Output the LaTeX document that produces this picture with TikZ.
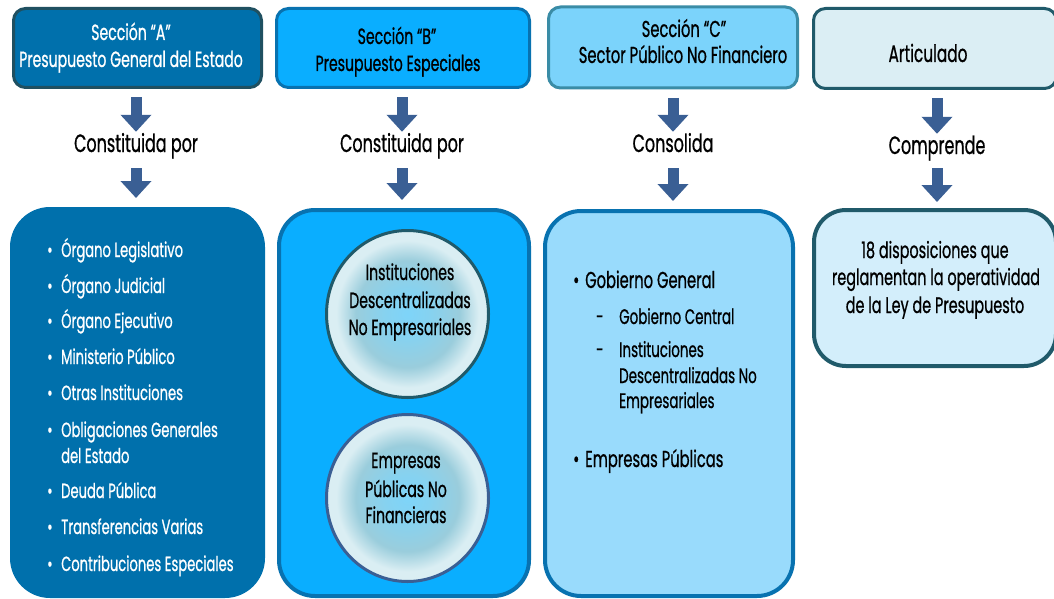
\documentclass[tikz,border=0pt]{standalone}
\usepackage{fontspec}
\setmainfont{Poppins}[FakeStretch=0.64,FakeBold=0.7]
\usetikzlibrary{arrows.meta,shapes.geometric}
\definecolor{cA}{HTML}{0070AC}
\definecolor{bA}{HTML}{1F5061}
\definecolor{cB}{HTML}{0AAEFF}
\definecolor{bB}{HTML}{0872B0}
\definecolor{cC}{HTML}{7BD3FB}
\definecolor{bC}{HTML}{3A8CA6}
\definecolor{cD}{HTML}{DBEEF4}
\definecolor{bD}{HTML}{205A6A}
\definecolor{cCb}{HTML}{99DBFC}
\definecolor{cDb}{HTML}{D3EEFB}
\definecolor{arr}{HTML}{3A5F94}
\definecolor{orbA}{HTML}{7ED4F9}
\definecolor{orbA2}{HTML}{86D2F0}
\definecolor{orbB}{HTML}{9ACDDC}
\definecolor{orbC}{HTML}{DAEEF3}
\pgfdeclareradialshading{orb}{\pgfpoint{0bp}{0bp}}{color(0bp)=(orbA); color(7bp)=(orbA2); color(16bp)=(orbB); color(22bp)=(orbC); color(25bp)=(orbC); color(50bp)=(orbC)}
\begin{document}
\begin{tikzpicture}[x=1pt,y=-1pt,
  topbox/.style={draw, line width=3pt, rounded corners=12pt, inner sep=0pt},
  botbox/.style={line width=4pt, rounded corners=36pt, inner sep=0pt},
  orbnode/.style={ellipse, draw, line width=3pt, shading=orb, inner sep=0pt, minimum width=162pt, minimum height=167pt},
  txt/.style={inner sep=0pt, anchor=base},
  txtw/.style={inner sep=0pt, anchor=base west},
  ft/.style={font=\fontsize{22}{26}\selectfont},
  fl/.style={font=\fontsize{20.5}{24}\selectfont},
  fs/.style={font=\fontsize{21}{25}\selectfont},
  fo/.style={font=\fontsize{22}{26}\selectfont},
  fg/.style={font=\fontsize{23}{27}\selectfont},
  lbl/.style={inner sep=0pt, anchor=base, text height=16pt, text depth=5pt, font=\fontsize{25}{29}\selectfont},
  blockarrow/.style={draw=arr, line width=11pt, -{Triangle[width=30pt,length=17pt]}}
]
\useasboundingbox (0,0) rectangle (1054,599);
\clip (0,0) rectangle (1054,599);

% top boxes
\node[topbox, draw=bA, fill=cA, minimum width=248pt, minimum height=79pt] (topA) at (137.5,48) {};
\node[topbox, draw=bB, fill=cB, minimum width=253pt, minimum height=79pt] (topB) at (403,48) {};
\node[topbox, draw=bC, fill=cC, minimum width=249pt, minimum height=81pt] (topC) at (673,47.5) {};
\node[topbox, draw=bD, fill=cD, minimum width=243pt, minimum height=80pt] (topD) at (935,48.5) {};

\node[txt, ft, text=white] (tA1) at (131,40) {Sección “A”};
\node[txt, ft, text=white] (tA2) at (131,67) {Presupuesto General del Estado};
\node[txt, ft] (tB1) at (397,44) {Sección “B”};
\node[txt, ft] (tB2) at (398,71) {Presupuesto Especiales};
\node[txt, fg] (tC1) at (684,37) {Sección “C”};
\node[txt, fg] (tC2) at (683,63) {Sector Público No Financiero};
\node[txt, font=\fontsize{24}{28}\selectfont] (tD1) at (928,62) {Articulado};

% middle labels
\node[lbl] (lA) at (136,152) {Constituida por};
\node[lbl] (lB) at (402,152) {Constituida por};
\node[lbl] (lC) at (673,152) {Consolida};
\node[lbl] (lD) at (937,154) {Comprende};

% bottom boxes
\node[botbox, fill=cA, minimum width=255pt, minimum height=391pt, rounded corners=40pt] (botA) at (137.5,402.5) {};
\node[botbox, draw=bB, fill=cB, minimum width=250pt, minimum height=386pt] (botB) at (404,403) {};
\node[botbox, draw=bB, fill=cCb, minimum width=248pt, minimum height=385pt] (botC) at (669,403.5) {};
\node[botbox, draw=bD, fill=cDb, minimum width=242pt, minimum height=156pt, rounded corners=32pt] (botD) at (935,288) {};

% arrows
\draw[blockarrow, shorten <=8.5pt, shorten >=4pt] (topA.south -| lA) -- (lA.north);
\draw[blockarrow, shorten <=11pt, shorten >=7pt] (lA.south) -- (botA.north -| lA);
\draw[blockarrow, shorten <=8.5pt, shorten >=4pt] (topB.south -| lB) -- (lB.north);
\draw[blockarrow, shorten <=11pt, shorten >=8pt] (lB.south) -- (botB.north -| lB);
\draw[blockarrow, shorten <=8.5pt, shorten >=4pt] (topC.south) -- (lC.north);
\draw[blockarrow, shorten <=11pt, shorten >=8pt] (lC.south) -- (botC.north -| lC);
\draw[blockarrow, shorten <=8.5pt, shorten >=4pt] (topD.south -| lD) -- (lD.north);
\draw[blockarrow, shorten <=9pt, shorten >=6pt] (lD.south) -- (botD.north -| lD);

% list A
\foreach \y/\t [count=\i] in {257/Órgano Legislativo, 293/Órgano Judicial, 328/Órgano Ejecutivo, 364/Ministerio Público, 400/Otras Instituciones, 437/Obligaciones Generales, 498/Deuda Pública, 534/Transferencias Varias, 571/Contribuciones Especiales}{
  \node[txtw, fl, text=white] (bA\i) at (47,\y) {•};
  \node[txtw, fl, text=white] (iA\i) at (61,\y) {\t};
}
\node[txtw, fl, text=white] (iA6b) at (61,463) {del Estado};

% orbs
\node[orbnode, draw=bD] (o1) at (407.5,314) {};
\node[orbnode, draw=arr] (o2) at (407.5,498) {};
\node[txt, fo] (o1a) at (410,280) {Instituciones};
\node[txt, fo] (o1b) at (410,308) {Descentralizadas};
\node[txt, fo] (o1c) at (410,335) {No Empresariales};
\node[txt, fo] (o2a) at (406,468) {Empresas};
\node[txt, fo] (o2b) at (406,497) {Públicas No};
\node[txt, fo] (o2c) at (406,523) {Financieras};

% list C
\node[txtw, fg] (bC1) at (573,288) {•};
\node[txtw, fg] (iC1) at (585,288) {Gobierno General};
\node[txtw, fs] (dC1) at (596,324) {-};
\node[txtw, fs] (iC2) at (619,324) {Gobierno Central};
\node[txtw, fs] (dC2) at (596,357) {-};
\node[txtw, fs] (iC3) at (619,357) {Instituciones};
\node[txtw, fs] (iC4) at (619,383) {Descentralizadas No};
\node[txtw, fs] (iC5) at (619,408) {Empresariales};
\node[txtw, fg] (bC2) at (573,467) {•};
\node[txtw, fg] (iC6) at (585,467) {Empresas Públicas};

% text D
\node[txt, font=\fontsize{22.5}{26}\selectfont] (tD2) at (935,258) {18 disposiciones que};
\node[txt, font=\fontsize{22.5}{26}\selectfont] (tD3) at (936,285) {reglamentan la operatividad};
\node[txt, font=\fontsize{22.5}{26}\selectfont] (tD4) at (935,313) {de la Ley de Presupuesto};
\end{tikzpicture}
\end{document}
